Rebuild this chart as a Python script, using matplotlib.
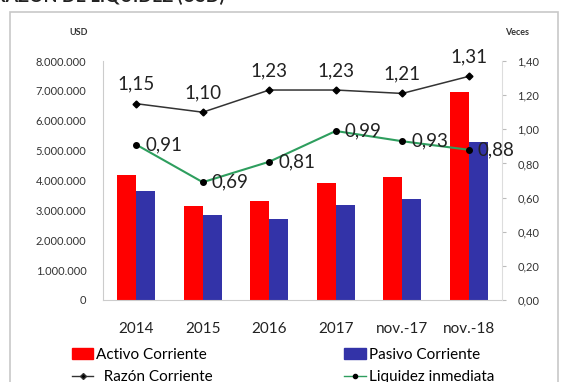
import matplotlib.pyplot as plt
import matplotlib.ticker as mticker
from matplotlib.patches import Rectangle
from matplotlib.lines import Line2D
from matplotlib.patches import Patch

plt.rcParams['font.family'] = ['Lato', 'DejaVu Sans']

periodos = ['2014', '2015', '2016', '2017', 'nov.-17', 'nov.-18']
activo_corriente = [4200000, 3130000, 3330000, 3930000, 4130000, 6960000]
pasivo_corriente = [3660000, 2860000, 2720000, 3190000, 3390000, 5280000]
razon_corriente = [1.15, 1.10, 1.23, 1.23, 1.21, 1.31]
liquidez_inmediata = [0.91, 0.69, 0.81, 0.99, 0.93, 0.88]

fig = plt.figure(figsize=(5.73, 3.82), dpi=100)
fig.patch.set_facecolor('white')

# marco del grafico
fig.patches.append(Rectangle((10 / 573, -0.05), 548 / 573, 1 - 12 / 382 + 0.05,
                             transform=fig.transFigure, fill=False,
                             edgecolor='#c8c8c8', linewidth=1.2))
fig.text(-0.01, 1 - 5 / 382, 'RAZÓN DE LIQUIDEZ (USD)', fontsize=13,
         fontweight='bold', ha='left', va='bottom', color='#222222')

ax = fig.add_axes([103 / 573, 1 - 300 / 382, 399 / 573, 239 / 382])
x = list(range(len(periodos)))
w = 0.285
ax.bar([i - w / 2 for i in x], activo_corriente, width=w, color='#ff0000')
ax.bar([i + w / 2 for i in x], pasivo_corriente, width=w, color='#3333a8')
ax.set_xlim(-0.5, 5.5)
ax.set_ylim(0, 8000000)
ax.set_yticks(range(0, 8000001, 1000000))
ax.yaxis.set_major_formatter(mticker.FuncFormatter(
    lambda v, p: '{:,.0f}'.format(v).replace(',', '.')))
ax.set_xticks(x)
ax.set_xticklabels(periodos, fontsize=11, color='#222222')
ax.tick_params(axis='x', length=0, pad=16)
ax.tick_params(axis='y', length=0, labelsize=8, colors='#333333', pad=12)
for s in ['top', 'right']:
    ax.spines[s].set_visible(False)
ax.spines['left'].set_color('#cccccc')
ax.spines['bottom'].set_color('#cccccc')
ax.text(-0.72, 8000000 * 1.12, 'USD', fontsize=6.5, fontweight='bold',
        ha='right', va='center', color='#333333')

ax2 = ax.twinx()
ax2.set_ylim(0, 1.40)
ax2.set_yticks([0, 0.2, 0.4, 0.6, 0.8, 1.0, 1.2, 1.4])
ax2.yaxis.set_major_formatter(mticker.FuncFormatter(
    lambda v, p: '{:.2f}'.format(v).replace('.', ',')))
ax2.tick_params(axis='y', length=3, direction='out', labelsize=8,
                colors='#333333', pad=8)
ax2.tick_params(axis='y', color='#bbbbbb')
for s in ['top', 'left', 'bottom']:
    ax2.spines[s].set_visible(False)
ax2.spines['right'].set_color('#dddddd')
ax2.text(5.72, 1.40 * 1.12, 'Veces', fontsize=6.5, fontweight='bold',
         ha='center', va='center', color='#333333')

ax2.plot(x, razon_corriente, color='#333333', linewidth=1.1, marker='D',
         markersize=3.5, markerfacecolor='black', markeredgecolor='black')
ax2.plot(x, liquidez_inmediata, color='#2e9e5e', linewidth=1.5, marker='o',
         markersize=4, markerfacecolor='black', markeredgecolor='black')

for i, v in enumerate(razon_corriente):
    ax2.annotate('{:.2f}'.format(v).replace('.', ','), (i, v),
                 xytext=(0, 8), textcoords='offset points', ha='center',
                 va='bottom', fontsize=13.5, color='#222222')
for i, v in enumerate(liquidez_inmediata):
    ax2.annotate('{:.2f}'.format(v).replace('.', ','), (i, v),
                 xytext=(6.5, 0), textcoords='offset points', ha='left',
                 va='center', fontsize=13.5, color='#222222')

handles = [Patch(color='#ff0000'),
           Line2D([], [], color='#333333', marker='D', markersize=3,
                  markerfacecolor='black', linewidth=1),
           Patch(color='#3333a8'),
           Line2D([], [], color='#2e9e5e', marker='o', markersize=3,
                  markerfacecolor='black', markeredgecolor='black', linewidth=1)]
labels = ['Activo Corriente', '  Razón Corriente', 'Pasivo Corriente',
          'Liquidez inmediata']
fig.legend(handles, labels, ncol=2, loc='upper left',
           bbox_to_anchor=(72 / 573, 1 - 348 / 382), frameon=False,
           fontsize=11, handlelength=1.4, handletextpad=0.2,
           columnspacing=8.6, labelspacing=0.55, borderaxespad=0,
           borderpad=0)

fig.savefig('out.png', dpi=100)
